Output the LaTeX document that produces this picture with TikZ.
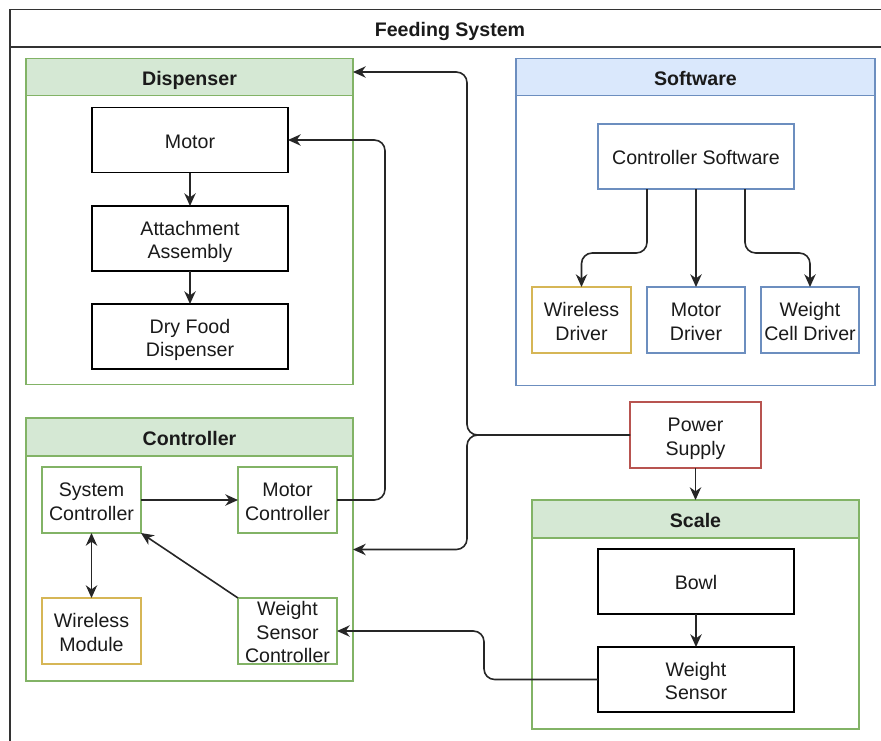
\documentclass[tikz,border=0pt]{standalone}
\usepackage{fontspec}
\setmainfont{Liberation Sans}
\usetikzlibrary{arrows.meta,calc}
\definecolor{grfill}{HTML}{D5E8D4}
\definecolor{grline}{HTML}{82B366}
\definecolor{blfill}{HTML}{DAE8FC}
\definecolor{blline}{HTML}{6C8EBF}
\definecolor{yeline}{HTML}{D6B656}
\definecolor{reline}{HTML}{B85450}
\definecolor{ink}{HTML}{1A1A1A}
\definecolor{wire}{HTML}{262626}
% strut that fixes the height of the first text line
\newcommand\tp{\rule{0pt}{16.2pt}}
\tikzset{
  sz/.style 2 args={minimum width=#1*0.75pt, minimum height=#2*0.75pt, inner sep=0pt, outer sep=0pt},
  lbl/.style={align=center,
    execute at begin node={\tp},
    execute at end node={\rule[-3.5pt]{0pt}{3.5pt}}},
  box/.style={draw=black, line width=1.1pt, fill=white, lbl},
  grbox/.style={box, draw=grline},
  blbox/.style={box, draw=blline},
  yebox/.style={box, draw=yeline},
  rebox/.style={box, draw=reline},
  group/.style={draw=#1, line width=1.1pt, fill=white, anchor=north west},
  head/.style={line width=1.1pt, anchor=north west, lbl, font=\fontsize{14.7}{17.3}\selectfont\bfseries},
  conn/.style={draw=wire, line width=1.2pt, rounded corners=8pt, -{Stealth[length=9.5pt, width=8.5pt, inset=3pt]}},
  biconn/.style={draw=wire, line width=1.2pt, {Stealth[length=9.5pt, width=8.5pt, inset=3pt]}-{Stealth[length=9.5pt, width=8.5pt, inset=3pt]}}
}
\begin{document}
\begin{tikzpicture}[x=0.75pt,y=-0.75pt,
  every node/.style={font=\fontsize{14.7}{17.3}\selectfont, text=ink}]
\useasboundingbox (0,0) rectangle (881,740);
\clip (0,0) rectangle (881,740);

% outer frame with its title band
\draw[line width=1.4pt, draw=black!80, fill=white] (10,9.5) rectangle (900,760);
\draw[line width=1.4pt, draw=black!80] (10,47) -- (900,47);
\node[lbl, font=\fontsize{14.7}{17.3}\selectfont\bfseries] (title) at (450,28.5) {Feeding System};

% Dispenser
\node[group=grline, sz={327}{326}] (disp) at (26,58.5) {};
\node[head, fill=grfill, draw=grline, sz={327}{37}] (disphead) at (26,58.5) {Dispenser};
\node[box, sz={196}{65}] (motor) at (190,140) {Motor};
\node[box, sz={196}{65}] (attach) at (190,238.5) {\tp Attachment\\Assembly};
\node[box, sz={196}{65}] (dry) at (190,336.5) {\tp Dry Food\\Dispenser};

% Software
\node[group=blline, sz={359}{327}] (soft) at (516,58.5) {};
\node[head, fill=blfill, draw=blline, sz={359}{37}] (softhead) at (516,58.5) {Software};
\node[blbox, sz={196}{65}] (csw) at (696,156.5) {Controller Software};
\node[yebox, sz={99}{66}] (wdrv) at (581.5,320) {\tp Wireless\\Driver};
\node[blbox, sz={98}{66}] (mdrv) at (696,320) {\tp Motor\\Driver};
\node[blbox, sz={98}{66}] (wcdrv) at (810,320) {\tp Weight\\Cell Driver};

% Power supply
\node[rebox, sz={131}{66}] (power) at (695.5,435) {\tp Power\\Supply};

% Controller
\node[group=grline, sz={327}{263}] (ctrl) at (26,418) {};
\node[head, fill=grfill, draw=grline, sz={327}{38}] (ctrlhead) at (26,418) {Controller};
\node[grbox, sz={99}{66}] (sysc) at (91.5,500) {\tp System\\Controller};
\node[grbox, sz={99}{66}] (motc) at (287.5,500) {\tp Motor\\Controller};
\node[yebox, sz={99}{66}] (wmod) at (91.5,631) {\tp Wireless\\Module};
% three lines: the text box is trimmed so the frame keeps its size
\node[grbox, sz={99}{66}, text height=47.3pt, text depth=0.7pt] (wsc) at (287.5,631) {Weight\\Sensor\\Controller};

% Scale
\node[group=grline, sz={327}{229}] (scale) at (532,500) {};
\node[head, fill=grfill, draw=grline, sz={327}{38}] (scalehead) at (532,500) {Scale};
\node[box, sz={196}{65}] (bowl) at (696,581.5) {Bowl};
\node[box, sz={196}{65}] (wsens) at (696,679.5) {\tp Weight\\Sensor};

% dispenser chain
\draw[conn] (motor.south) -- (attach.north);
\draw[conn] (attach.south) -- (dry.north);

% software drivers
\draw[conn] ($(csw.south)+(-49,0)$) -- ++(0,64) -| (wdrv.north);
\draw[conn] (csw.south) -- (mdrv.north);
\draw[conn] ($(csw.south)+(49,0)$) -- ++(0,64) -| (wcdrv.north);

% power distribution
\coordinate (jn) at (467,435);
\draw[conn] (power.south) -- (scalehead.north);
\draw[conn] (power.west) -- (jn) |- ($(disphead.east)+(0,-5)$);
\draw[conn] (power.west) -- (jn) |- (ctrl.east);

% scale internals
\draw[conn] (bowl.south) -- (wsens.north);

% controller links
\draw[conn] (motc.east) -- ++(48,0) |- (motor.east);
\draw[conn] (sysc.east) -- (motc.west);
\draw[biconn] (sysc.south) -- (wmod.north);
\draw[conn] (wsc.north west) -- (sysc.south east);
\draw[conn] (wsens.west) -- ++(-114,0) |- (wsc.east);
\end{tikzpicture}
\end{document}
